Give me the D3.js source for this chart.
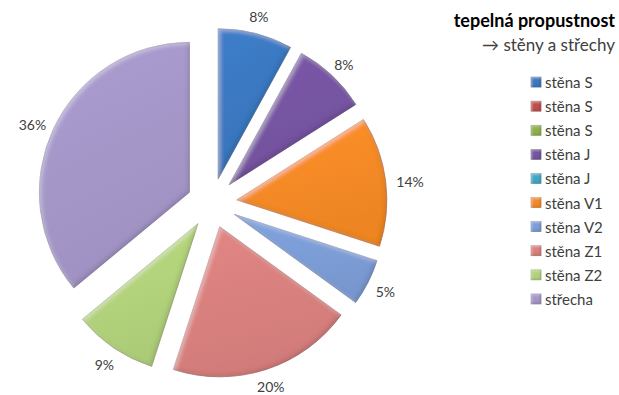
<!DOCTYPE html>
<html>
<head>
<meta charset="utf-8">
<script src="https://cdn.jsdelivr.net/npm/d3@7/dist/d3.min.js"></script>
<style>
  html, body { margin: 0; padding: 0; background: #fff; }
  svg { display: block; }
  text { font-family: Lato, "Open Sans", sans-serif; }
</style>
</head>
<body>
<svg id="chart" width="619" height="395"></svg>
<script>
// Heat-loss shares by building element (%)
const categories = ["stěna S", "stěna S", "stěna S", "stěna J", "stěna J",
                    "stěna V1", "stěna V2", "stěna Z1", "stěna Z2", "střecha"];
const shares = [8, 0, 0, 8, 0, 14, 5, 20, 9, 36];
const colors = ["#3a78c1", "#c0504d", "#8fb14c", "#7654a2", "#3fa8c4",
                "#f58a25", "#7c9dd6", "#d9807e", "#b2d27b", "#a596c8"];
const title = "tepelná propustnost";
const subtitle = "→ stěny a střechy";

const cx = 212, cy = 203, radius = 150, explode = 25, labelGap = 11;

const svg = d3.select("#chart");
const defs = svg.append("defs");

// soft bevel: light rim on the upper-left edges, dark rim on the lower-right
function bevelFilter(id, blur, shift, lightOp, darkOp) {
  const f = defs.append("filter").attr("id", id)
    .attr("x", "-10%").attr("y", "-10%").attr("width", "120%").attr("height", "120%");
  f.append("feGaussianBlur").attr("in", "SourceAlpha").attr("stdDeviation", blur).attr("result", "b");
  f.append("feOffset").attr("in", "b").attr("dx", shift).attr("dy", shift).attr("result", "bDown");
  f.append("feOffset").attr("in", "b").attr("dx", -shift).attr("dy", -shift).attr("result", "bUp");
  f.append("feComposite").attr("in", "SourceAlpha").attr("in2", "bDown").attr("operator", "out").attr("result", "rimTL");
  f.append("feComposite").attr("in", "SourceAlpha").attr("in2", "bUp").attr("operator", "out").attr("result", "rimBR");
  f.append("feFlood").attr("flood-color", "#ffffff").attr("flood-opacity", lightOp).attr("result", "white");
  f.append("feComposite").attr("in", "white").attr("in2", "rimTL").attr("operator", "in").attr("result", "hi");
  f.append("feFlood").attr("flood-color", "#000000").attr("flood-opacity", darkOp).attr("result", "black");
  f.append("feComposite").attr("in", "black").attr("in2", "rimBR").attr("operator", "in").attr("result", "lo");
  const m = f.append("feMerge");
  m.append("feMergeNode").attr("in", "SourceGraphic");
  m.append("feMergeNode").attr("in", "hi");
  m.append("feMergeNode").attr("in", "lo");
}
bevelFilter("bevel", 2, 2, 0.35, 0.25);
bevelFilter("bevelSmall", 0.8, 1, 0.35, 0.25);

// gentle top-to-bottom shading per colour
colors.forEach((c, i) => {
  const g = defs.append("linearGradient").attr("id", "grad" + i)
    .attr("x1", 0).attr("y1", 0).attr("x2", 0.3).attr("y2", 1);
  g.append("stop").attr("offset", "0%").attr("stop-color", d3.color(c).brighter(0.12));
  g.append("stop").attr("offset", "100%").attr("stop-color", d3.color(c).darker(0.1));
});

const items = shares.map((v, i) => ({ i, name: categories[i], value: v }));
const pie = d3.pie().sort(null).value(d => d.value);
const arcs = pie(items);
const arc = d3.arc().innerRadius(0).outerRadius(radius);
const shown = arcs.filter(a => a.data.value > 0);

const g = svg.append("g").attr("transform", `translate(${cx},${cy})`);

const slices = g.selectAll("g.slice")
  .data(shown)
  .join("g").attr("class", "slice")
  .attr("transform", a => {
    const m = (a.startAngle + a.endAngle) / 2;
    return `translate(${Math.sin(m) * explode},${-Math.cos(m) * explode})`;
  });

slices.append("path")
  .attr("d", arc)
  .attr("fill", a => `url(#grad${a.data.i})`)
  .attr("stroke", a => d3.color(colors[a.data.i]).darker(0.7))
  .attr("stroke-width", 0.7)
  .attr("filter", "url(#bevel)");

// percentage labels just outside each slice
const labels = g.selectAll("text.pct")
  .data(shown)
  .join("text").attr("class", "pct")
  .attr("font-size", 14).attr("fill", "#404040")
  .attr("text-anchor", "middle").attr("dominant-baseline", "central")
  .text(a => a.data.value + "%");

labels.each(function (a) {
  const m = (a.startAngle + a.endAngle) / 2;
  const bb = this.getBBox();
  const rr = radius + explode + labelGap;
  const x = Math.sin(m) * (rr + bb.width / 2 * Math.abs(Math.sin(m)));
  const y = -Math.cos(m) * (rr + bb.height / 2 * Math.abs(Math.cos(m))) + 2;
  d3.select(this).attr("x", x).attr("y", Math.min(y, 386 - cy));
});

// title block
svg.append("text").attr("x", 615).attr("y", 27).attr("text-anchor", "end")
  .attr("font-size", 18).attr("font-weight", "bold").attr("fill", "#000").text(title);
svg.append("text").attr("x", 615).attr("y", 51).attr("text-anchor", "end")
  .attr("font-size", 17).attr("fill", "#404040").text(subtitle);

// legend
const legendY = d3.scaleBand().domain(d3.range(categories.length)).range([70, 311]);
const rows = svg.append("g").selectAll("g").data(items).join("g")
  .attr("transform", d => `translate(531,${legendY(d.i) + legendY.bandwidth() / 2})`);
rows.append("rect").attr("x", 0).attr("y", -5).attr("width", 10).attr("height", 10)
  .attr("fill", d => `url(#grad${d.i})`)
  .attr("stroke", d => d3.color(colors[d.i]).darker(0.6)).attr("stroke-width", 0.6)
  .attr("filter", "url(#bevelSmall)");
rows.append("text").attr("x", 14).attr("y", 0).attr("dominant-baseline", "central")
  .attr("font-size", 15).attr("fill", "#404040").text(d => d.name);
</script>
</body>
</html>
